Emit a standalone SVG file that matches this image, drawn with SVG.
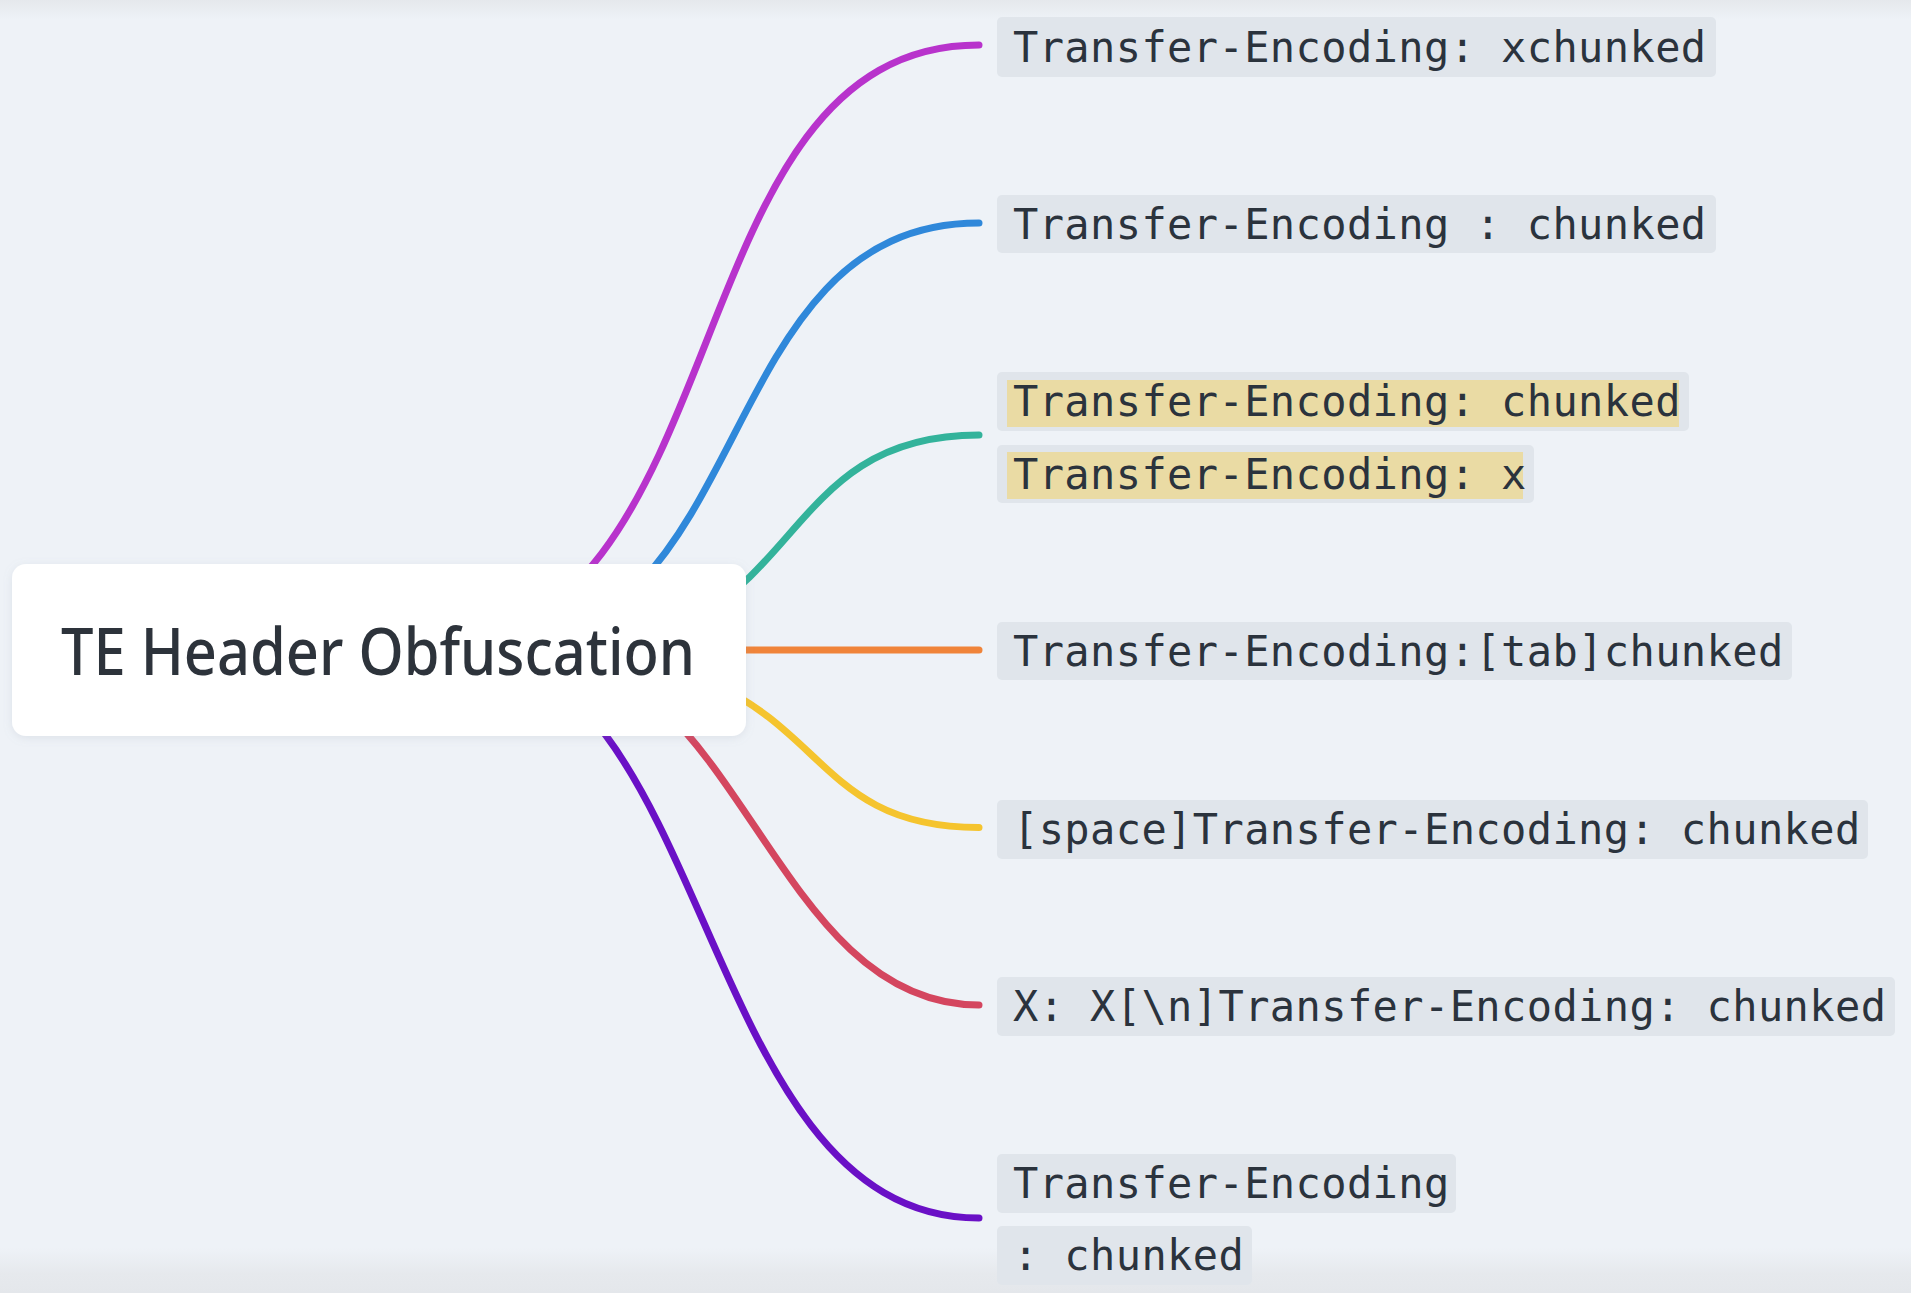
<svg xmlns="http://www.w3.org/2000/svg" width="1911" height="1293" viewBox="0 0 1911 1293">
<defs>
<linearGradient id="bg" x1="0" y1="0" x2="0" y2="1">
<stop offset="0" stop-color="#e5e8ec"/>
<stop offset="0.015" stop-color="#eef2f7"/>
<stop offset="0.965" stop-color="#eef2f7"/>
<stop offset="0.985" stop-color="#e6e9ed"/>
<stop offset="1" stop-color="#e4e7eb"/>
</linearGradient>
<filter id="sh" x="-10%" y="-20%" width="120%" height="140%">
<feDropShadow dx="0" dy="2" stdDeviation="4" flood-color="#8a96a8" flood-opacity="0.18"/>
</filter>
<style>
.c{fill:none;stroke-width:7;stroke-linecap:round}
.box{fill:#e0e5eb}
.hl{fill:#eadba4}
.t{font-family:"DejaVu Sans Mono","Liberation Mono",monospace;font-size:42px;letter-spacing:0.4px;fill:#2b333d}
.main{font-family:"Noto Sans","Open Sans",sans-serif;font-weight:500;font-size:66px;fill:#2d333b}
</style>
</defs>
<rect x="0" y="0" width="1911" height="1293" fill="url(#bg)"/>
<g id="connectors">
<path class="c" stroke="#b833cc" d="M417,650 C748,650 664,45 979,45"/>
<path class="c" stroke="#2f88da" d="M484,650 C761,650 706,223 979,223"/>
<path class="c" stroke="#33b39b" d="M554,650 C811,650 763,435 979,435"/>
<path class="c" stroke="#f0843a" d="M600,650 L979,650"/>
<path class="c" stroke="#f5c42e" d="M520,650 C843,650 775,827.5 979,827.5"/>
<path class="c" stroke="#d4465f" d="M531,650 C741,650 770,1005 979,1005"/>
<path class="c" stroke="#6a10c6" d="M458,650 C716,650 695,1218 979,1218"/>
</g>
<g id="root">
<rect x="12" y="564" width="734" height="172" rx="14" fill="#ffffff" filter="url(#sh)"/>
<text class="main" x="61" y="675" textLength="634" lengthAdjust="spacingAndGlyphs">TE Header Obfuscation</text>
</g>
<g id="n1">
<rect class="box" x="997" y="17" width="719" height="60" rx="5"/>
<text class="t" x="1013" y="62">Transfer-Encoding: xchunked</text>
</g>
<g id="n2">
<rect class="box" x="997" y="195" width="719" height="58" rx="5"/>
<text class="t" x="1013" y="239">Transfer-Encoding : chunked</text>
</g>
<g id="n3">
<rect class="box" x="997" y="372" width="692" height="59" rx="5"/>
<rect class="hl" x="1007" y="380" width="672" height="47"/>
<rect class="box" x="997" y="445" width="537" height="58" rx="5"/>
<rect class="hl" x="1007" y="452" width="516" height="47"/>
<text class="t" x="1013" y="416">Transfer-Encoding: chunked</text>
<text class="t" x="1013" y="489">Transfer-Encoding: x</text>
</g>
<g id="n4">
<rect class="box" x="997" y="622" width="795" height="58" rx="5"/>
<text class="t" x="1013" y="666">Transfer-Encoding:[tab]chunked</text>
</g>
<g id="n5">
<rect class="box" x="997" y="800" width="871" height="59" rx="5"/>
<text class="t" x="1013" y="844">[space]Transfer-Encoding: chunked</text>
</g>
<g id="n6">
<rect class="box" x="997" y="977" width="898" height="59" rx="5"/>
<text class="t" x="1013" y="1021">X: X[\n]Transfer-Encoding: chunked</text>
</g>
<g id="n7">
<rect class="box" x="997" y="1154" width="459" height="59" rx="5"/>
<rect class="box" x="997" y="1226" width="255" height="59" rx="5"/>
<text class="t" x="1013" y="1198">Transfer-Encoding</text>
<text class="t" x="1013" y="1270">: chunked</text>
</g>
</svg>
